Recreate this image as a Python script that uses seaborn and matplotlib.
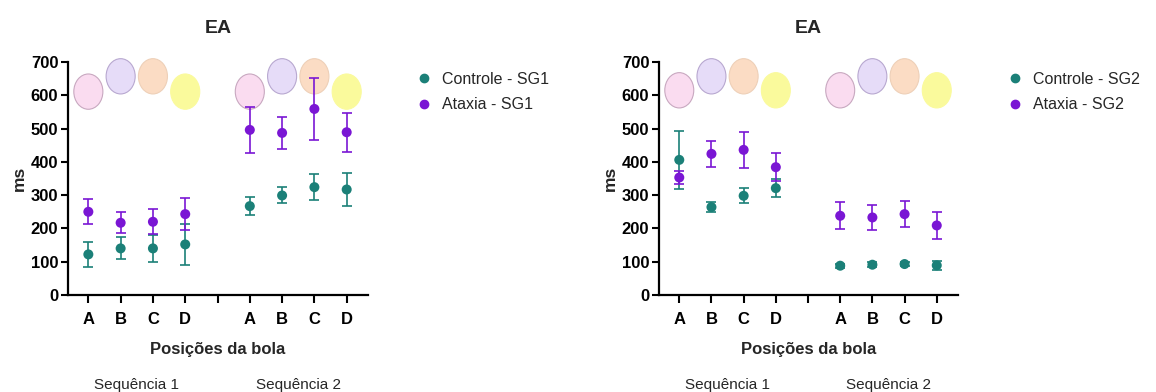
import numpy as np
import pandas as pd
import matplotlib
matplotlib.use("Agg")
import matplotlib.pyplot as plt
from matplotlib.patches import Ellipse
from matplotlib.lines import Line2D
import seaborn as sns

# ---------------- data ----------------
positions = ["A", "B", "C", "D", "A", "B", "C", "D"]
pos_index = [0, 1, 2, 3, 5, 6, 7, 8]
tick_index = [0, 1, 2, 3, 4, 5, 6, 7, 8]
tick_labels = ["A", "B", "C", "D", "", "A", "B", "C", "D"]
sequences = ["Sequência 1", "Sequência 2"]
seq_centers = [1.5, 6.5]

# Panel 1 (SG1)
ctrl_sg1_mean = [122, 140, 140, 152, 267, 299, 324, 317]
ctrl_sg1_err = [37, 33, 40, 62, 26, 24, 39, 49]
atax_sg1_mean = [250, 217, 220, 243, 496, 487, 559, 489]
atax_sg1_err = [37, 31, 38, 47, 70, 47, 92, 58]

# Panel 2 (SG2)
ctrl_sg2_mean = [406, 264, 298, 321, 88, 91, 93, 89]
ctrl_sg2_err = [88, 15, 23, 27, 6, 7, 7, 14]
atax_sg2_mean = [353, 424, 436, 384, 238, 233, 243, 209]
atax_sg2_err = [21, 39, 55, 42, 41, 37, 40, 41]

# decorative balls
ball_y_sg1 = [611, 657, 657, 611]
ball_y_sg2 = [615, 657, 657, 615]
ball_colors = ["#fadcf0", "#e6dcf8", "#fbdcc4", "#fafa9c"]
ball_edges = ["#c8a8c0", "#b8a8d0", "#eed0b8", "#fafa9c"]

teal = "#1b8078"
purple = "#7a16d4"

sns.set_style("ticks")
plt.rcParams["font.family"] = ["Liberation Sans", "DejaVu Sans"]

fig = plt.figure(figsize=(11.56, 3.92), dpi=100)
ax1 = fig.add_axes([68 / 1156, 97 / 392, 300 / 1156, 233 / 392])
ax2 = fig.add_axes([659 / 1156, 97 / 392, 299 / 1156, 233 / 392])


def draw_panel(ax, cm, ce, am, ae, ball_y, ctrl_label, atax_label, legend_x):
    # balls
    for s in range(2):
        for k in range(4):
            ax.add_patch(Ellipse((pos_index[s * 4 + k], ball_y[k]), 0.9, 106,
                                 facecolor=ball_colors[k], edgecolor=ball_edges[k],
                                 linewidth=0.8, zorder=1, clip_on=False))
    df = pd.DataFrame({
        "x": pos_index * 2,
        "y": cm + am,
        "err": ce + ae,
        "grupo": [ctrl_label] * 8 + [atax_label] * 8,
    })
    pal = {ctrl_label: teal, atax_label: purple}
    for g, sub in df.groupby("grupo", sort=False):
        ax.errorbar(sub["x"], sub["y"], yerr=sub["err"], fmt="none",
                    ecolor=pal[g], elinewidth=1.2, capsize=3.5, capthick=1.2, zorder=3)
    sns.scatterplot(data=df, x="x", y="y", hue="grupo", palette=pal, s=52,
                    edgecolor="none", ax=ax, zorder=4, legend=False)
    ax.set_xlim(-0.63, 8.66)
    ax.set_ylim(0, 700)
    ax.set_yticks(range(0, 701, 100))
    ax.set_xticks(tick_index)
    ax.set_xticklabels(tick_labels, fontweight="bold", fontsize=12)
    for t in ax.get_yticklabels():
        t.set_fontweight("bold")
        t.set_fontsize(12)
    ax.tick_params(axis="x", direction="out", length=6, width=1.5, color="black",
                   labelcolor="black", pad=6)
    ax.tick_params(axis="y", direction="out", length=5, width=1.5, color="black",
                   labelcolor="black", pad=2)
    for sp in ["top", "right"]:
        ax.spines[sp].set_visible(False)
    for sp in ["left", "bottom"]:
        ax.spines[sp].set_linewidth(1.6)
        ax.spines[sp].set_color("black")
    ax.set_xlabel("Posições da bola", fontweight="bold", fontsize=12, labelpad=11)
    ax.set_ylabel("ms", fontweight="bold", fontsize=12.5, labelpad=3)
    ax.set_title("EA", fontweight="bold", fontsize=14, pad=21)
    trans = matplotlib.transforms.blended_transform_factory(ax.transData, ax.transAxes)
    for c, lab in zip(seq_centers, sequences):
        ax.text(c, -0.385, lab, transform=trans, ha="center", va="center", fontsize=11)
    handles = [Line2D([], [], marker="o", linestyle="none", color=teal, markersize=6),
               Line2D([], [], marker="o", linestyle="none", color=purple, markersize=6)]
    ax.legend(handles, [ctrl_label, atax_label], loc="upper left",
              bbox_to_anchor=(legend_x, 1.02), frameon=False, fontsize=11.5,
              handletextpad=0.6, labelspacing=0.65, handlelength=1.0)


draw_panel(ax1, ctrl_sg1_mean, ctrl_sg1_err, atax_sg1_mean, atax_sg1_err, ball_y_sg1,
           "Controle - SG1", "Ataxia - SG1", 1.113)
draw_panel(ax2, ctrl_sg2_mean, ctrl_sg2_err, atax_sg2_mean, atax_sg2_err, ball_y_sg2,
           "Controle - SG2", "Ataxia - SG2", 1.117)

fig.savefig("out.png", dpi=100)
